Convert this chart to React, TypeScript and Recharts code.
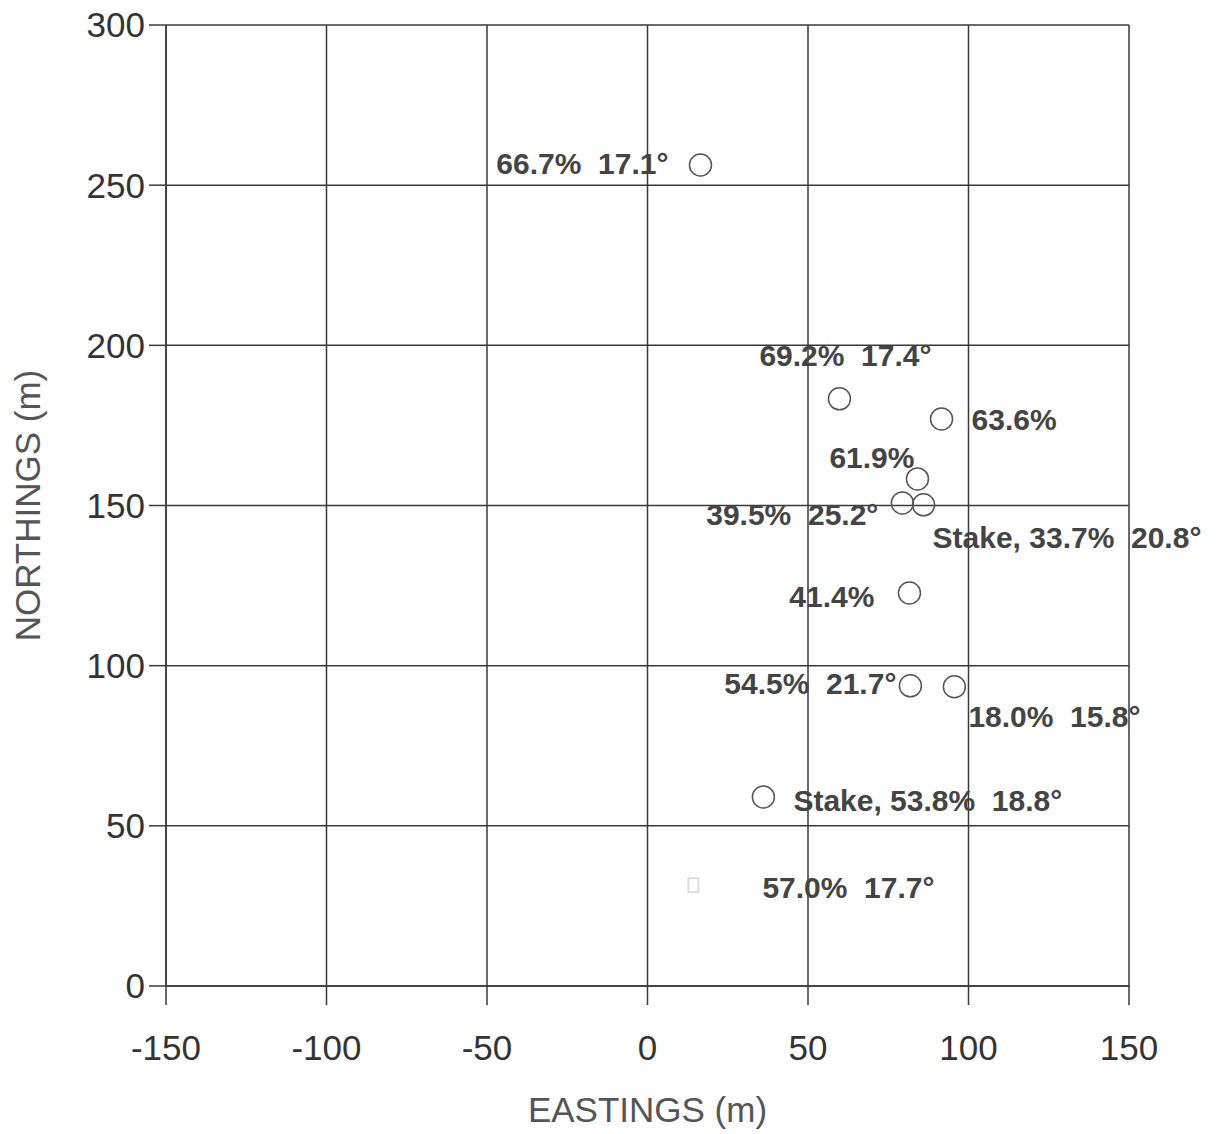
import { ScatterChart, Scatter, XAxis, YAxis, CartesianGrid } from 'recharts';

// survey sites (eastings / northings in metres)
const eastings = [16.5, 59.8, 91.6, 84.1, 79.4, 86.0, 81.6, 81.9, 95.6, 36.1];
const northings = [256.3, 183.3, 177.0, 158.3, 150.8, 150.2, 122.7, 93.7, 93.4, 59.0];
const siteLabels = [
  '66.7%  17.1°',
  '69.2%  17.4°',
  '63.6%',
  '61.9%',
  '39.5%  25.2°',
  'Stake, 33.7%  20.8°',
  '41.4%',
  '54.5%  21.7°',
  '18.0%  15.8°',
  'Stake, 53.8%  18.8°',
];

// the faded site near the bottom (marker barely visible in the scan)
const fadedEastings = [14.3];
const fadedNorthings = [31.5];
const fadedLabels = ['57.0%  17.7°'];

const xTicks = [-150, -100, -50, 0, 50, 100, 150];
const yTicks = [0, 50, 100, 150, 200, 250, 300];

// label placement relative to each marker: [dx, dy, anchor]
const placement: [number, number, 'start' | 'middle' | 'end'][] = [
  [-32, -1, 'end'],
  [6, -43, 'middle'],
  [30, 0, 'start'],
  [-3, -21, 'end'],
  [-24, 12, 'end'],
  [9, 33, 'start'],
  [-35, 4, 'end'],
  [-14, -2, 'end'],
  [14, 30, 'start'],
  [30, 3, 'start'],
];
const fadedPlacement: [number, number, 'start' | 'middle' | 'end'][] = [[69, 2, 'start']];

const sites = eastings.map((e, i) => ({ e, n: northings[i], label: siteLabels[i], i }));
const faded = fadedEastings.map((e, i) => ({ e, n: fadedNorthings[i], label: fadedLabels[i], i }));

const FONT = '"Liberation Sans", Arial, sans-serif';
const tickStyle = { fill: '#333', fontSize: 35, fontFamily: FONT };

function labelText(cx: number, cy: number, text: string, p: [number, number, string]) {
  return (
    <text
      x={cx + p[0]}
      y={cy + p[1]}
      textAnchor={p[2]}
      dominantBaseline="central"
      style={{ whiteSpace: 'pre' }}
      fontFamily={FONT}
      fontWeight="bold"
      fontSize={30}
      fill="#444"
    >
      {text}
    </text>
  );
}

function SiteShape(props: any) {
  const { cx, cy, payload } = props;
  return (
    <g>
      <circle cx={cx} cy={cy} r={11} fill="none" stroke="#555" strokeWidth={1.5} />
      {labelText(cx, cy, payload.label, placement[payload.i])}
    </g>
  );
}

function FadedShape(props: any) {
  const { cx, cy, payload } = props;
  return (
    <g>
      <rect x={cx - 5} y={cy - 7} width={10} height={14} fill="none" stroke="#ddd" strokeWidth={2} />
      {labelText(cx, cy, payload.label, fadedPlacement[payload.i])}
    </g>
  );
}

export default function App() {
  return (
    <div style={{ position: 'absolute', left: 0, top: 0, background: '#fff' }}>
      <ScatterChart width={1227} height={1134} margin={{ top: 25, right: 98, bottom: 0, left: 0 }}>
        <CartesianGrid stroke="#3a3a3a" strokeWidth={1.5} />
        <XAxis
          type="number"
          dataKey="e"
          domain={[-150, 150]}
          ticks={xTicks}
          height={148}
          tick={tickStyle}
          tickSize={19}
          tickMargin={30}
          axisLine={{ stroke: '#3a3a3a', strokeWidth: 1.5 }}
          tickLine={{ stroke: '#3a3a3a', strokeWidth: 1.5 }}
          label={{
            value: 'EASTINGS (m)',
            position: 'insideBottom',
            offset: 12,
            style: { fill: '#555', fontSize: 35, fontFamily: FONT },
          }}
        />
        <YAxis
          type="number"
          dataKey="n"
          domain={[0, 300]}
          ticks={yTicks}
          width={166}
          tick={tickStyle}
          tickSize={17}
          tickMargin={4}
          axisLine={{ stroke: '#3a3a3a', strokeWidth: 1.5 }}
          tickLine={{ stroke: '#3a3a3a', strokeWidth: 1.5 }}
          label={{
            value: 'NORTHINGS (m)',
            angle: -90,
            position: 'insideLeft',
            offset: 28,
            style: { fill: '#555', fontSize: 35, fontFamily: FONT, textAnchor: 'middle' },
          }}
        />
        <Scatter data={sites} shape={SiteShape} isAnimationActive={false} />
        <Scatter data={faded} shape={FadedShape} isAnimationActive={false} />
      </ScatterChart>
    </div>
  );
}
